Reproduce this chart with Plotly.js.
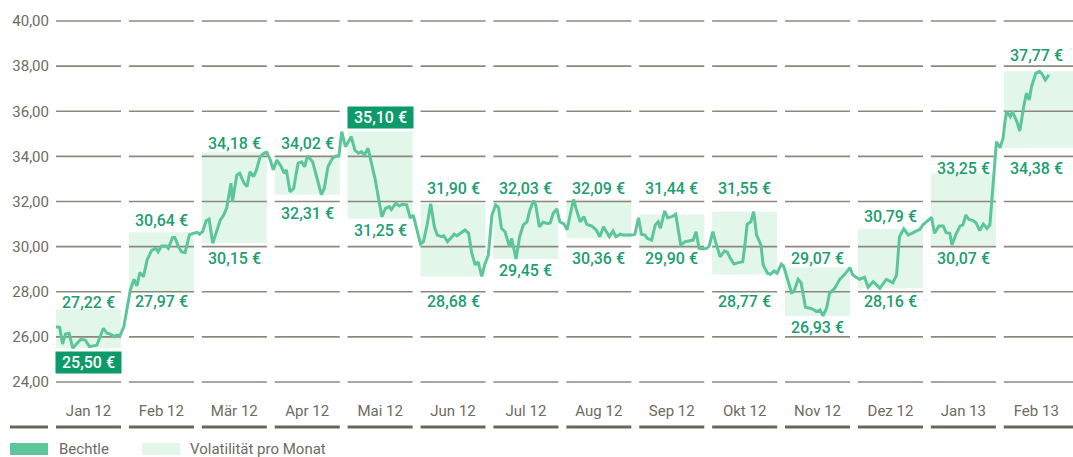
<!DOCTYPE html>
<html>
<head>
<meta charset="utf-8">
<script src="https://cdn.plot.ly/plotly-3.0.1.min.js"></script>
<style>html,body{margin:0;padding:0;background:#fff;}#chart{width:1073px;height:457px;}</style>
</head>
<body>
<div id="chart"></div>
<script>
// ---------- data ----------
const months = ['Jan 12','Feb 12','Mär 12','Apr 12','Mai 12','Jun 12','Jul 12','Aug 12','Sep 12','Okt 12','Nov 12','Dez 12','Jan 13','Feb 13'];
const monthHigh = [27.22,30.64,34.18,34.02,35.10,31.90,32.03,32.09,31.44,31.55,29.07,30.79,33.25,37.77];
const monthLow  = [25.50,27.97,30.15,32.31,31.25,28.68,29.45,30.36,29.90,28.77,26.93,28.16,30.07,34.38];
const yTicks = [24,26,28,30,32,34,36,38,40];
// time in months since 1 Jan 2012, closing price in EUR
const priceTime = [0.00,0.05,0.09,0.13,0.18,0.23,0.28,0.34,0.40,0.46,0.51,0.56,0.65,0.70,0.74,0.80,0.83,0.88,0.93,0.97,
1.02,1.07,1.11,1.15,1.20,1.25,1.31,1.37,1.40,1.45,1.51,1.54,1.60,1.63,1.68,1.72,1.77,1.83,1.88,1.94,1.97,
2.01,2.06,2.10,2.15,2.21,2.25,2.30,2.34,2.36,2.40,2.42,2.48,2.52,2.58,2.62,2.66,2.71,2.75,2.80,2.86,2.89,2.94,2.98,
3.03,3.09,3.13,3.16,3.21,3.26,3.32,3.37,3.41,3.45,3.52,3.55,3.64,3.68,3.73,3.79,3.84,3.88,3.92,3.97,
4.05,4.10,4.15,4.19,4.23,4.28,4.33,4.38,4.42,4.47,4.52,4.57,4.60,4.66,4.71,4.75,4.81,4.86,4.90,4.95,
5.00,5.04,5.09,5.14,5.19,5.23,5.29,5.32,5.37,5.43,5.46,5.50,5.57,5.61,5.66,5.70,5.75,5.79,5.84,5.88,5.93,5.98,
6.03,6.07,6.11,6.16,6.22,6.25,6.31,6.36,6.41,6.46,6.50,6.55,6.58,6.63,6.68,6.74,6.78,6.82,6.87,6.91,6.97,
7.01,7.05,7.10,7.14,7.19,7.24,7.28,7.35,7.41,7.46,7.51,7.55,7.59,7.64,7.68,7.74,7.78,7.85,7.90,7.94,7.99,
8.03,8.08,8.11,8.17,8.22,8.26,8.29,8.35,8.39,8.45,8.50,8.57,8.63,8.70,8.74,8.78,8.82,8.88,8.93,8.96,
9.01,9.06,9.11,9.17,9.21,9.25,9.30,9.36,9.42,9.45,9.48,9.53,9.57,9.61,9.67,9.70,9.76,9.80,9.85,9.89,9.95,9.98,
10.04,10.09,10.12,10.18,10.22,10.28,10.34,10.38,10.43,10.48,10.52,10.57,10.61,10.68,10.75,10.81,10.89,10.93,
11.02,11.09,11.14,11.21,11.30,11.39,11.48,11.53,11.57,11.63,11.69,11.76,11.85,11.89,
12.01,12.05,12.11,12.17,12.21,12.26,12.29,12.35,12.40,12.44,12.48,12.52,12.58,12.62,12.67,12.72,12.77,12.81,12.84,12.87,12.90,12.95,12.99,
13.02,13.04,13.09,13.12,13.18,13.22,13.27,13.31,13.35,13.38,13.44,13.49,13.52,13.57,13.62];
const price = [26.45,26.42,25.68,26.13,26.16,25.50,25.68,25.89,25.86,25.57,25.60,25.63,26.38,26.16,26.13,26.01,26.07,26.07,26.45,27.19,
28.08,28.55,28.26,28.85,28.67,29.41,29.82,29.93,29.77,30.03,30.03,29.93,30.41,30.41,30.00,29.77,29.73,30.52,30.59,30.63,30.55,
30.66,31.15,31.22,30.15,30.74,31.15,31.40,31.70,32.07,32.81,31.99,33.17,33.25,32.81,32.66,33.32,33.10,33.40,33.99,34.16,34.18,33.84,33.40,
33.84,33.54,33.25,33.40,32.43,32.58,33.69,33.76,33.54,34.02,33.76,33.40,32.31,32.58,33.54,33.91,34.02,34.02,35.10,34.43,
34.87,34.28,34.14,34.21,34.06,34.36,33.69,32.95,32.21,31.33,31.70,31.77,31.65,31.92,31.80,31.88,31.85,31.26,31.40,30.74,
30.12,30.22,30.96,31.90,30.88,30.51,30.44,30.48,30.22,30.44,30.55,30.48,30.66,30.74,30.59,29.75,29.19,29.33,28.68,29.19,29.63,31.40,
31.85,31.73,30.81,30.66,30.00,30.37,29.45,30.44,30.96,31.10,31.62,32.03,31.85,30.88,31.08,31.03,31.05,31.48,31.67,31.10,31.00,
30.74,31.37,32.09,31.62,31.10,31.33,30.99,30.91,30.74,30.44,30.88,30.66,30.44,30.69,30.44,30.55,30.51,30.51,30.51,30.55,31.28,
30.55,30.51,30.37,30.29,30.96,31.10,30.81,31.58,31.28,31.33,31.44,30.07,30.22,30.25,30.29,30.66,29.93,29.90,29.93,30.03,
30.66,30.07,29.55,29.81,29.75,29.48,29.23,29.29,29.33,30.07,30.99,31.10,31.55,30.51,30.07,29.19,28.82,28.77,28.92,28.82,29.22,29.14,
28.52,27.96,28.00,28.55,28.40,27.31,27.27,27.23,27.12,27.19,26.93,27.27,27.93,28.15,28.55,28.74,29.07,28.74,
28.55,28.64,28.20,28.45,28.16,28.55,28.40,28.74,30.44,30.79,30.51,30.62,30.77,30.96,
31.30,30.59,30.91,30.91,30.62,30.59,30.07,30.59,30.91,30.96,31.40,31.21,31.15,31.06,30.71,31.00,30.81,30.96,32.07,33.40,34.65,34.38,34.80,
35.61,35.98,35.76,35.98,35.54,35.12,36.13,36.80,36.50,37.09,37.68,37.77,37.68,37.39,37.61];

// ---------- layout / style ----------
const W = 1073, H = 457, ML = 56, MB = 62;
const PW = W - ML, PH = H - MB;
const COLW = 0.892;          // column width in months
const XMAX = 13.95;
const highlightHigh = 4;     // Mai 12
const highlightLow = 0;      // Jan 12
const hiLift = [7,11.5,9,12.6,14,15.5,12.5,11.2,25.8,23.4,9.3,12.1,5,16.3];
const loDrop = [14.3,9.3,15.1,19.2,11.6,25.3,11,19.8,9.4,27.3,11.8,13.6,13.3,20.5];

const LINE = '#5cc59a', BOX = '#e3f6ea', LBL = '#1d9e6f', DARK = '#0c9a68';
const GRID = '#8c897c', AXT = '#6e6b5f', BASE = '#6b6757';
const FONT = 'Roboto, "DejaVu Sans", sans-serif';
const px2x = p => (p - ML) / PW;
const px2y = p => (PH - p) / PH;
const fmt = v => v.toFixed(2).replace('.', ',') + ' €';

const shapes = [];
const annotations = [];
months.forEach((m, i) => {
  const x1 = (i === months.length - 1) ? XMAX : i + COLW;
  shapes.push({type:'rect', layer:'below', xref:'x', yref:'y', x0:i, x1:x1, y0:monthLow[i], y1:monthHigh[i],
               fillcolor:BOX, line:{width:0}});
});
months.forEach((m, i) => {
  const x1 = (i === months.length - 1) ? XMAX : i + COLW;
  yTicks.forEach(v => shapes.push({type:'line', layer:'below', xref:'x', yref:'y', x0:i, x1:x1, y0:v, y1:v,
                                   line:{color:GRID, width:1.6}}));
  shapes.push({type:'line', xref:'x', yref:'paper', x0:i, x1:x1, y0:px2y(427), y1:px2y(427),
               line:{color:BASE, width:3}});
});
shapes.push({type:'line', xref:'paper', yref:'paper', x0:px2x(10), x1:px2x(48), y0:px2y(427), y1:px2y(427),
             line:{color:BASE, width:3}});
// legend swatches
shapes.push({type:'rect', xref:'paper', yref:'paper', x0:px2x(10), x1:px2x(48), y0:px2y(455), y1:px2y(443),
             fillcolor:LINE, line:{width:0}});
shapes.push({type:'rect', xref:'paper', yref:'paper', x0:px2x(142), x1:px2x(180), y0:px2y(455), y1:px2y(443),
             fillcolor:BOX, line:{width:0}});
annotations.push({xref:'paper', yref:'paper', x:px2x(57), y:px2y(449), xanchor:'left', yanchor:'middle',
                  text:'Bechtle', showarrow:false, font:{family:FONT, size:15, color:AXT}});
annotations.push({xref:'paper', yref:'paper', x:px2x(188), y:px2y(449), xanchor:'left', yanchor:'middle',
                  text:'Volatilität pro Monat', showarrow:false, font:{family:FONT, size:15, color:AXT}});

months.forEach((m, i) => {
  const cx = i + COLW / 2;
  const hiHL = i === highlightHigh, loHL = i === highlightLow;
  annotations.push(Object.assign({x:cx, y:monthHigh[i], xref:'x', yref:'y', xanchor:'center', yanchor:'middle',
    yshift:hiLift[i], text:fmt(monthHigh[i]), showarrow:false,
    font:{family:FONT, size:16, color: hiHL ? '#ffffff' : LBL, weight:500}},
    hiHL ? {bgcolor:DARK, width:65, height:21, borderpad:0} : {}));
  annotations.push(Object.assign({x:cx, y:monthLow[i], xref:'x', yref:'y', xanchor:'center', yanchor:'middle',
    yshift:-loDrop[i], text:fmt(monthLow[i]), showarrow:false,
    font:{family:FONT, size:16, color: loHL ? '#ffffff' : LBL, weight:500}},
    loHL ? {bgcolor:DARK, width:65, height:21, borderpad:0} : {}));
});

const trace = {x:priceTime, y:price, type:'scatter', mode:'lines', name:'Bechtle',
               line:{color:LINE, width:3}, hoverinfo:'skip', showlegend:false, cliponaxis:false};

const layout = {
  width:W, height:H, margin:{l:ML, r:0, t:0, b:MB}, paper_bgcolor:'#fff', plot_bgcolor:'rgba(0,0,0,0)',
  separators:',.', showlegend:false, font:{family:FONT},
  xaxis:{range:[0, XMAX], showgrid:false, zeroline:false, showline:false, ticks:'',
         tickvals:months.map((m,i)=>i+COLW/2), ticktext:months, tickfont:{family:FONT, size:15, color:AXT},
         ticklabelstandoff:5, fixedrange:true},
  yaxis:{range:[23.424, 40.931], showgrid:false, zeroline:false, showline:false, ticks:'',
         tickvals:yTicks, tickformat:'.2f', tickfont:{family:FONT, size:15, color:AXT},
         ticklabelstandoff:6, fixedrange:true},
  shapes:shapes, annotations:annotations
};
Plotly.newPlot('chart', [trace], layout, {displayModeBar:false, staticPlot:true});
</script>
</body>
</html>
